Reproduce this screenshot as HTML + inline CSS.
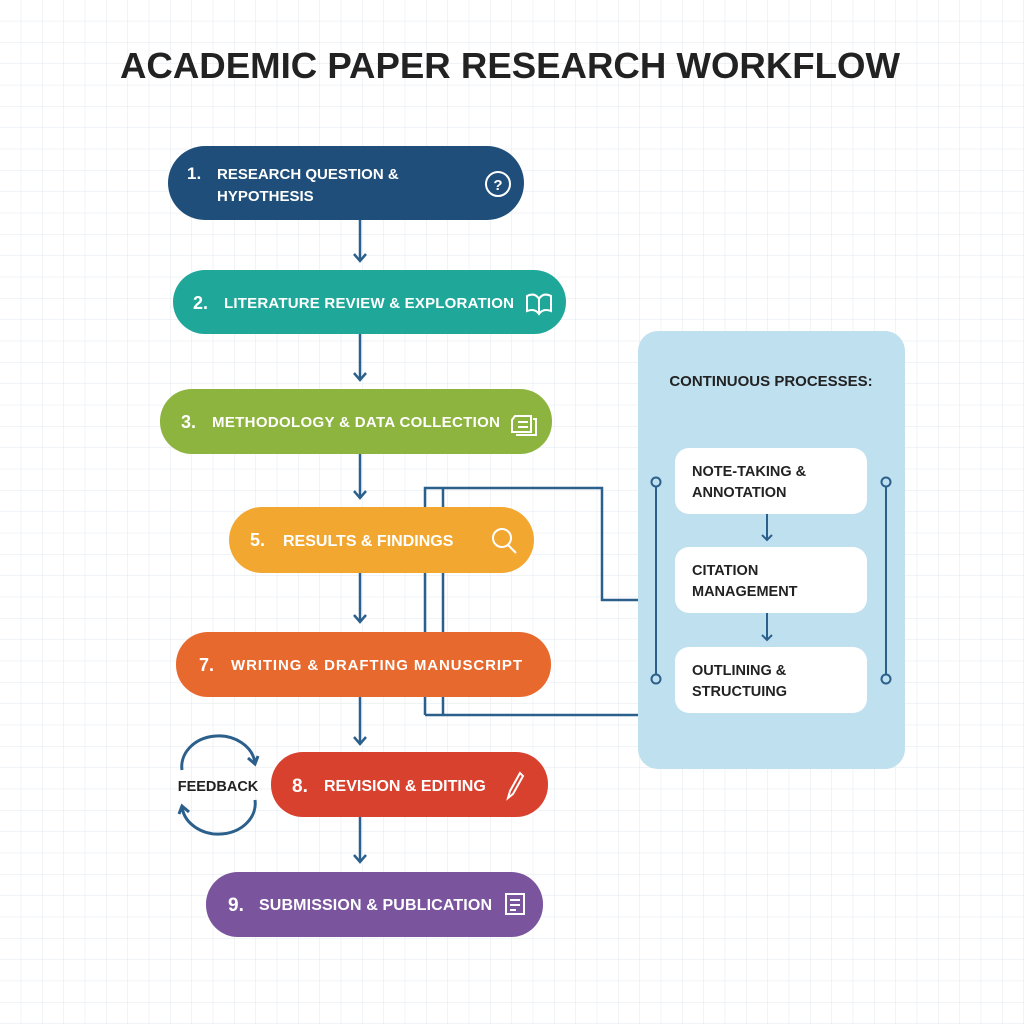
<!DOCTYPE html>
<html><head><meta charset="utf-8"><style>
body{margin:0;background:#fff}
svg{display:block}
text{font-family:"Liberation Sans",sans-serif;font-weight:bold}
</style></head><body>
<svg width="1024" height="1024" viewBox="0 0 1024 1024" xmlns="http://www.w3.org/2000/svg">
<defs>
<pattern id="g" width="21.33" height="21.33" patternUnits="userSpaceOnUse">
<path d="M21.33 0V21.33M0 21.33H21.33" stroke="#e2e8ef" stroke-width="1" fill="none"/>
</pattern>
</defs>
<rect width="1024" height="1024" fill="#fff"/>
<rect width="1024" height="1024" fill="url(#g)"/>
<text x="120" y="78" font-size="36" fill="#222" textLength="780" lengthAdjust="spacingAndGlyphs">ACADEMIC PAPER RESEARCH WORKFLOW</text>

<g stroke="#2b5f8c" stroke-width="2.5" fill="none">
<line x1="360" y1="220" x2="360" y2="261"/><path d="M354 254 L360 261 L366 254"/>
<line x1="360" y1="334" x2="360" y2="380"/><path d="M354 373 L360 380 L366 373"/>
<line x1="360" y1="454" x2="360" y2="498"/><path d="M354 491 L360 498 L366 491"/>
<line x1="360" y1="573" x2="360" y2="622"/><path d="M354 615 L360 622 L366 615"/>
<line x1="360" y1="697" x2="360" y2="744"/><path d="M354 737 L360 744 L366 737"/>
<line x1="360" y1="817" x2="360" y2="862"/><path d="M354 855 L360 862 L366 855"/>
<path d="M425 715 V488 H602 V600 H640"/>
<path d="M443 715 V488"/>
<path d="M425 715 H640"/>
</g>

<rect x="638" y="331" width="267" height="438" rx="20" fill="#bfe0ef"/>
<text x="771" y="386" text-anchor="middle" font-size="15" fill="#222">CONTINUOUS PROCESSES:</text>
<g stroke="#2b5f8c" stroke-width="2" fill="none">
<line x1="656" y1="487" x2="656" y2="675"/>
<line x1="886" y1="487" x2="886" y2="675"/>
<circle cx="656" cy="482" r="4.5" fill="#bfe0ef"/>
<circle cx="656" cy="679" r="4.5" fill="#bfe0ef"/>
<circle cx="886" cy="482" r="4.5" fill="#bfe0ef"/>
<circle cx="886" cy="679" r="4.5" fill="#bfe0ef"/>
<line x1="767" y1="514" x2="767" y2="540"/><path d="M762 535 L767 540 L772 535"/>
<line x1="767" y1="613" x2="767" y2="640"/><path d="M762 635 L767 640 L772 635"/>
</g>
<g fill="#fff">
<rect x="675" y="448" width="192" height="66" rx="14"/>
<rect x="675" y="547" width="192" height="66" rx="14"/>
<rect x="675" y="647" width="192" height="66" rx="14"/>
</g>
<g font-size="14.5" fill="#222">
<text x="692" y="476">NOTE-TAKING &amp;</text><text x="692" y="497">ANNOTATION</text>
<text x="692" y="575">CITATION</text><text x="692" y="596">MANAGEMENT</text>
<text x="692" y="675">OUTLINING &amp;</text><text x="692" y="696">STRUCTUING</text>
</g>

<rect x="168" y="146" width="356" height="74" rx="37" fill="#1e4e79"/>
<rect x="173" y="270" width="393" height="64" rx="32" fill="#1fa89a"/>
<rect x="160" y="389" width="392" height="65" rx="32" fill="#8db43f"/>
<rect x="229" y="507" width="305" height="66" rx="33" fill="#f2a830"/>
<rect x="176" y="632" width="375" height="65" rx="32" fill="#e8692e"/>
<rect x="271" y="752" width="277" height="65" rx="32" fill="#d9412f"/>
<rect x="206" y="872" width="337" height="65" rx="32" fill="#7a559e"/>

<g fill="#fff" font-size="15">
<text x="187" y="179" font-size="17">1.</text>
<text x="217" y="179">RESEARCH QUESTION &amp;</text>
<text x="217" y="201">HYPOTHESIS</text>
<text x="193" y="309" font-size="18">2.</text><text x="224" y="308" textLength="290">LITERATURE REVIEW &amp; EXPLORATION</text>
<text x="181" y="428" font-size="18">3.</text><text x="212" y="427" textLength="288">METHODOLOGY &amp; DATA COLLECTION</text>
<text x="250" y="546" font-size="18">5.</text><text x="283" y="546" font-size="16">RESULTS &amp; FINDINGS</text>
<text x="199" y="671" font-size="18">7.</text><text x="231" y="670" textLength="291">WRITING &amp; DRAFTING MANUSCRIPT</text>
<text x="292" y="792" font-size="19">8.</text><text x="324" y="791" font-size="16">REVISION &amp; EDITING</text>
<text x="228" y="911" font-size="19">9.</text><text x="259" y="910" font-size="16" textLength="233">SUBMISSION &amp; PUBLICATION</text>
</g>

<g stroke="#fff" stroke-width="2" fill="none">
<circle cx="498" cy="184" r="12"/>
<path d="M527 296 q8 -4 12 3 q4 -7 12 -3 v15 q-8 -3 -12 3 q-4 -6 -12 -3z M539 299 v15"/>
<path d="M515 416 h16 v16 h-19 v-12z M518 422 h10 M518 427 h10 M533 419 h3 v16 h-20"/>
<circle cx="502" cy="538" r="9"/><path d="M508 545 l8 8"/>
<path d="M520 773 l-10 18 l-2 7 l5 -4 l10 -18z"/>
<path d="M506 894 h18 v20 h-18z M510 900 h10 M510 905 h10 M510 910 h6"/>
</g>
<text x="498" y="190" text-anchor="middle" font-size="15" fill="#fff">?</text>

<text x="218" y="791" text-anchor="middle" font-size="14.5" fill="#222">FEEDBACK</text>
<g stroke="#2b5f8c" stroke-width="3" fill="none">
<path d="M182 770 a36 30 0 0 1 73 -7"/>
<path d="M255 800 a36 30 0 0 1 -73 7"/>
<path d="M248 758 l7 6 l3 -8"/>
<path d="M189 812 l-7 -6 l-3 8"/>
</g>
</svg>
</body></html>
